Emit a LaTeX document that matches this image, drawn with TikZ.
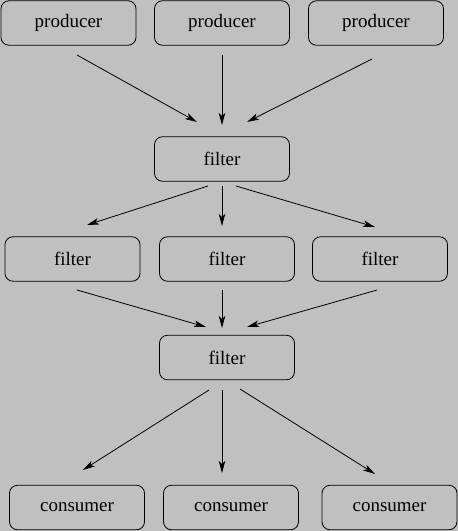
\documentclass[tikz,border=0pt]{standalone}
\usepackage{fontspec}
\setmainfont{Liberation Serif}
\usetikzlibrary{arrows.meta}
\definecolor{bggray}{HTML}{C0C0C0}
\begin{document}
\begin{tikzpicture}[x=1pt,y=-1pt,
  box/.style={draw=black,line width=0.8pt,rounded corners=8pt,minimum width=135pt,minimum height=44.5pt,inner sep=0pt,font=\fontsize{19}{21}\selectfont},
  conn/.style={draw=black,line width=0.8pt,-{Stealth[length=12pt,width=6.5pt,inset=3pt]}}]
\fill[bggray] (0,0) rectangle (458,531);
\useasboundingbox (0,0) rectangle (458,531);
\node[box] (p1) at (68.5,23) {producer};
\node[box] (p2) at (222,23) {producer};
\node[box] (p3) at (376,23) {producer};
\node[box] (f1) at (222,159) {filter};
\node[box] (g1) at (72.5,259) {filter};
\node[box] (g2) at (227,259) {filter};
\node[box] (g3) at (380,259) {filter};
\node[box] (m) at (227,357.5) {filter};
\node[box] (c1) at (77,507.5) {consumer};
\node[box] (c2) at (231,507.5) {consumer};
\node[box] (c3) at (389.5,507.5) {consumer};
\draw[conn] ([shift={(8.5,32)}]p1.center) -- ([shift={(-25,-37)}]f1.center);
\draw[conn] ([shift={(0,32)}]p2.center) -- ([shift={(0,-34)}]f1.center);
\draw[conn] ([shift={(-4,36)}]p3.center) -- ([shift={(25,-37)}]f1.center);
\draw[conn] ([shift={(-14,27)}]f1.center) -- ([shift={(14.5,-34)}]g1.center);
\draw[conn] ([shift={(0,27)}]f1.center) -- ([shift={(-5,-33)}]g2.center);
\draw[conn] ([shift={(14,27)}]f1.center) -- ([shift={(-5,-32)}]g3.center);
\draw[conn] ([shift={(4.5,31)}]g1.center) -- ([shift={(-21,-30.5)}]m.center);
\draw[conn] ([shift={(-5,31)}]g2.center) -- ([shift={(-5,-29.5)}]m.center);
\draw[conn] ([shift={(-3,31)}]g3.center) -- ([shift={(20,-30.5)}]m.center);
\draw[conn] ([shift={(-18,32.5)}]m.center) -- ([shift={(6,-37.5)}]c1.center);
\draw[conn] ([shift={(-5,32.5)}]m.center) -- ([shift={(-9,-34.5)}]c2.center);
\draw[conn] ([shift={(13,31.5)}]m.center) -- ([shift={(-14.5,-33.5)}]c3.center);
\end{tikzpicture}
\end{document}
